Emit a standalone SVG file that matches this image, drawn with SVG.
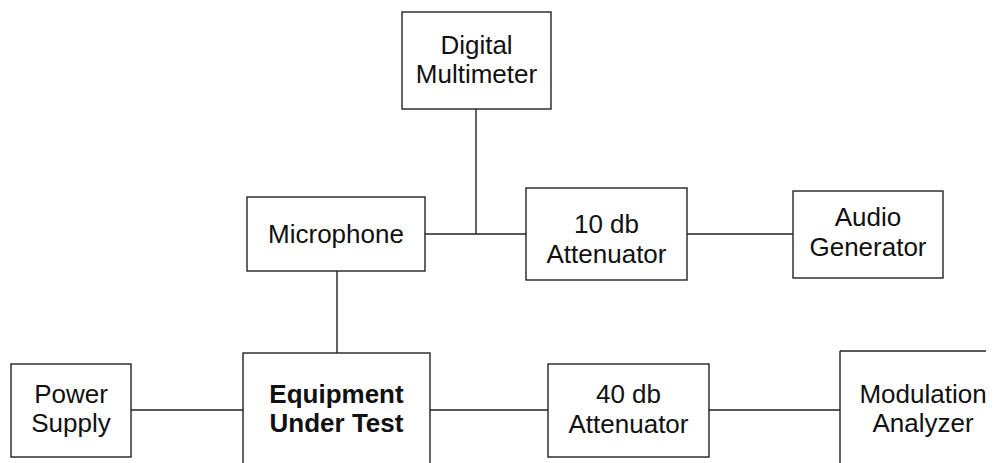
<svg xmlns="http://www.w3.org/2000/svg" width="995" height="463" viewBox="0 0 995 463">
  <style>
    .box { fill: #ffffff; stroke: #222222; stroke-width: 1.4; }
    .wire { fill: none; stroke: #222222; stroke-width: 1.4; }
    .label { font-family: "Liberation Sans", Arial, sans-serif; font-size: 26px; fill: #111111; text-anchor: middle; }
    .bold { font-weight: bold; }
  </style>
  <rect width="995" height="463" fill="#ffffff"/>

  <!-- connectors -->
  <g id="connectors">
    <line class="wire" x1="476" y1="109" x2="476" y2="234"/>
    <line class="wire" x1="425" y1="234" x2="526" y2="234"/>
    <line class="wire" x1="687" y1="234" x2="793" y2="234"/>
    <line class="wire" x1="337" y1="271" x2="337" y2="353"/>
    <line class="wire" x1="131" y1="410" x2="243" y2="410"/>
    <line class="wire" x1="430" y1="410" x2="548" y2="410"/>
    <line class="wire" x1="709" y1="410" x2="840" y2="410"/>
  </g>

  <g id="digital-multimeter">
    <rect class="box" x="402" y="12" width="149" height="97"/>
    <text class="label" x="476.5" y="54">Digital</text>
    <text class="label" x="476.5" y="83">Multimeter</text>
  </g>

  <g id="microphone">
    <rect class="box" x="247" y="197" width="178" height="74"/>
    <text class="label" x="336" y="243">Microphone</text>
  </g>

  <g id="attenuator-10db">
    <rect class="box" x="526" y="188" width="161" height="92"/>
    <text class="label" x="606.5" y="233">10 db</text>
    <text class="label" x="606.5" y="263">Attenuator</text>
  </g>

  <g id="audio-generator">
    <rect class="box" x="793" y="191" width="150" height="87"/>
    <text class="label" x="868" y="226">Audio</text>
    <text class="label" x="868" y="256">Generator</text>
  </g>

  <g id="power-supply">
    <rect class="box" x="11" y="364" width="120" height="93"/>
    <text class="label" x="71" y="403">Power</text>
    <text class="label" x="71" y="432">Supply</text>
  </g>

  <!-- open at the bottom: runs past the lower edge -->
  <g id="equipment-under-test">
    <rect class="box" x="243" y="353" width="187" height="130"/>
    <text class="label bold" x="336.5" y="403">Equipment</text>
    <text class="label bold" x="336.5" y="432">Under Test</text>
  </g>

  <g id="attenuator-40db">
    <rect class="box" x="548" y="364" width="161" height="93"/>
    <text class="label" x="628.5" y="403">40 db</text>
    <text class="label" x="628.5" y="433">Attenuator</text>
  </g>

  <!-- only the top and left sides fall inside the sheet -->
  <g id="modulation-analyzer">
    <line class="wire" x1="840" y1="351" x2="986" y2="351"/>
    <line class="wire" x1="840" y1="351" x2="840" y2="463" stroke="#808080"/>
    <text class="label" x="923" y="403">Modulation</text>
    <text class="label" x="923" y="432">Analyzer</text>
  </g>
</svg>
